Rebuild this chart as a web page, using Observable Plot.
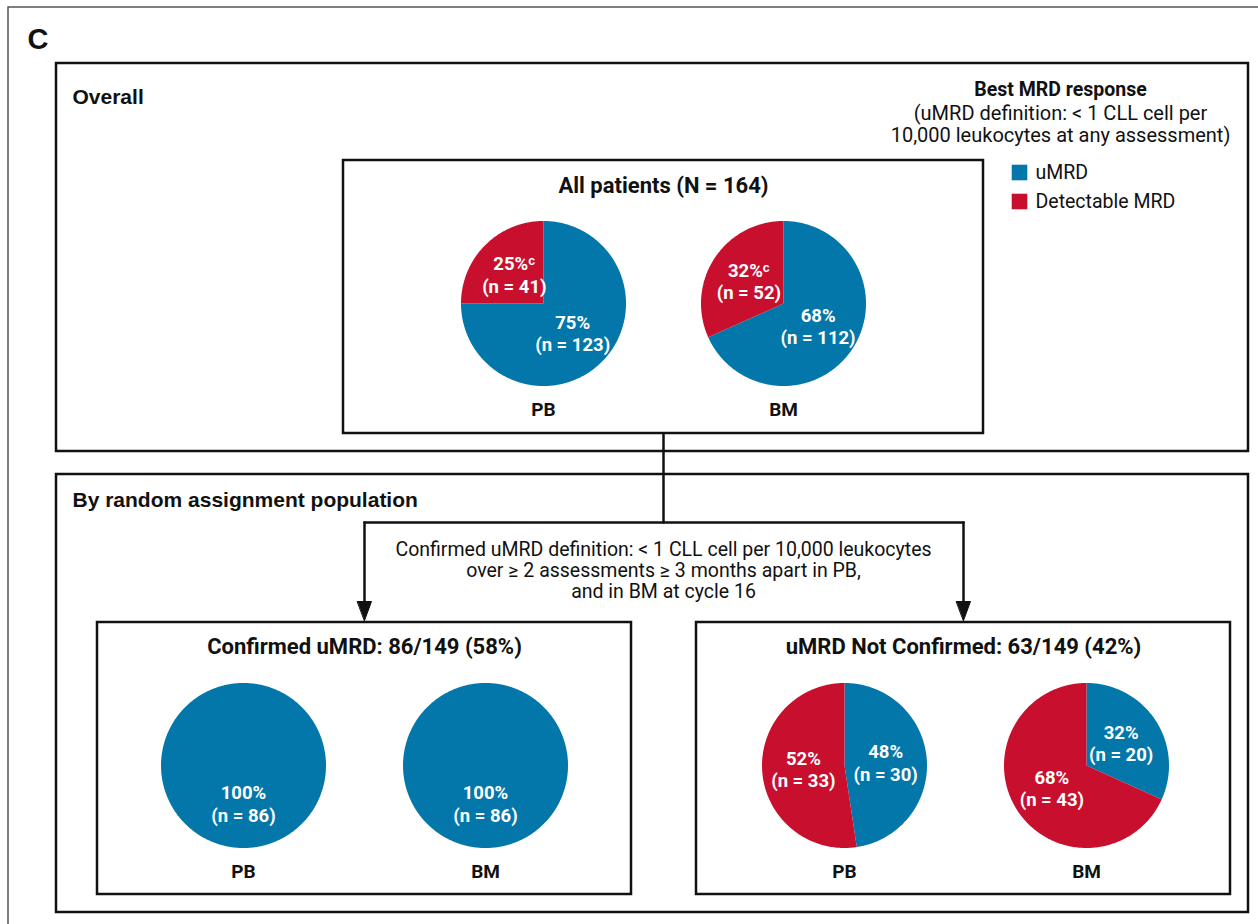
<!DOCTYPE html>
<html><head><meta charset="utf-8">
<script src="https://cdn.jsdelivr.net/npm/d3@7"></script>
<script src="https://cdn.jsdelivr.net/npm/@observablehq/plot@0.6"></script>
<style>body{margin:0;background:#fff;overflow:hidden}</style>
</head><body><div id="chart"></div>
<script>
// ---------- data ----------
const panelTitles = ["All patients (N = 164)", "Confirmed uMRD: 86/149 (58%)", "uMRD Not Confirmed: 63/149 (42%)"];
const sectionTitles = ["Overall", "By random assignment population"];
const statuses = ["uMRD", "Detectable MRD"];
const pieSites = ["PB", "BM", "PB", "BM", "PB", "BM"];
const piePanels = [0, 0, 1, 1, 2, 2];
const uMRDCounts = [123, 112, 86, 86, 30, 20];
const detectableCounts = [41, 52, 0, 0, 33, 43];
const uMRDPercents = [75, 68, 100, 100, 48, 32];
const detectablePercents = [25, 32, 0, 0, 52, 68];
const footnoteMarks = ["ᶜ", "ᶜ", "", "", "", ""];
const legendTitle = "Best MRD response";
const legendNote = ["(uMRD definition: < 1 CLL cell per", "10,000 leukocytes at any assessment)"];
const confirmedDefinition = ["Confirmed uMRD definition: < 1 CLL cell per 10,000 leukocytes", "over ≥ 2 assessments ≥ 3 months apart in PB,", "and in BM at cycle 16"];
const colors = ["#0377a9", "#c8102e"];

// ---------- layout ----------
const W = 1258, H = 924, R = 82.5;
const pieCenters = [[543, 303], [783, 303], [243, 765], [485, 765], [844, 765], [1086, 765]];
const siteLabelY = [409, 409, 871, 871, 871, 871];
const sectionBoxes = [{x1: 56, x2: 1248, y1: 63, y2: 451}, {x1: 56, x2: 1248, y1: 474, y2: 912}];
const panelBoxes = [{x1: 343, x2: 983, y1: 160, y2: 433}, {x1: 97, x2: 631, y1: 622, y2: 894}, {x1: 696, x2: 1230, y1: 622, y2: 894}];
const panelTitleY = [185, 646, 646];

// ---------- build pie slices ----------
const pieGen = d3.pie().sort(null).value(d => d.value);
const slicePts = [];
const sliceLabels = [];
pieCenters.forEach(([cx, cy], i) => {
  const vals = [
    {status: statuses[0], value: uMRDCounts[i], pct: uMRDPercents[i], mark: ""},
    {status: statuses[1], value: detectableCounts[i], pct: detectablePercents[i], mark: footnoteMarks[i]}
  ];
  const total = d3.sum(vals, d => d.value);
  pieGen(vals).forEach((a, j) => {
    if (a.data.value <= 0) return;
    const key = i + "-" + j;
    const full = a.data.value === total;
    const n = Math.max(4, Math.ceil((a.endAngle - a.startAngle) / (Math.PI / 180)));
    if (!full) slicePts.push({key, status: a.data.status, x: cx, y: cy});
    for (let k = 0; k <= n; k++) {
      const t = a.startAngle + (a.endAngle - a.startAngle) * k / n;
      slicePts.push({key, status: a.data.status, x: cx + R * Math.sin(t), y: cy - R * Math.cos(t)});
    }
    const mid = (a.startAngle + a.endAngle) / 2;
    const rr = full ? 0.46 * R : 0.5 * R;
    sliceLabels.push({
      x: cx + rr * Math.sin(mid), y: cy - rr * Math.cos(mid),
      text: `${a.data.pct}%${a.data.mark}\n(n = ${a.data.value})`
    });
  });
});

const sites = pieCenters.map(([cx], i) => ({x: cx, y: siteLabelY[i], text: pieSites[i]}));

// connector and arrows
const cx0 = (panelBoxes[0].x1 + panelBoxes[0].x2) / 2;
const ax1 = (panelBoxes[1].x1 + panelBoxes[1].x2) / 2;
const ax2 = (panelBoxes[2].x1 + panelBoxes[2].x2) / 2;
const hy = 522, tipY = 620;
const connector = [
  {k: "v", x: cx0, y: panelBoxes[0].y2}, {k: "v", x: cx0, y: hy},
  {k: "h", x: ax1, y: hy}, {k: "h", x: ax2, y: hy},
  {k: "l", x: ax1, y: hy}, {k: "l", x: ax1, y: tipY - 14},
  {k: "r", x: ax2, y: hy}, {k: "r", x: ax2, y: tipY - 14}
];
const heads = [];
[ax1, ax2].forEach((x, i) => {
  heads.push({k: i, x: x - 7, y: tipY - 19}, {k: i, x: x + 7, y: tipY - 19}, {k: i, x: x, y: tipY});
});

const SANS = "Liberation Sans, Arial, sans-serif";
const ROB = "Roboto, sans-serif";

const plot = Plot.plot({
  width: W, height: H,
  margin: 0,
  x: {domain: [0, W], range: [0, W], axis: null},
  y: {domain: [0, H], range: [0, H], axis: null},
  color: {domain: statuses, range: colors},
  style: {overflow: "hidden", background: "white"},
  marks: [
    // outer frame
    Plot.rect([{}], {x1: 8, x2: W + 20, y1: 7, y2: H + 20, fill: "none", stroke: "#555", strokeWidth: 1.5}),
    Plot.text(["C"], {x: 27, y: 39, text: d => d, textAnchor: "start", fontFamily: SANS, fontWeight: "bold", fontSize: 29, fill: "#111"}),
    Plot.rect(sectionBoxes, {x1: "x1", x2: "x2", y1: "y1", y2: "y2", fill: "white", stroke: "#111", strokeWidth: 2.5}),
    Plot.rect(panelBoxes, {x1: "x1", x2: "x2", y1: "y1", y2: "y2", fill: "white", stroke: "#111", strokeWidth: 2.5}),
    Plot.line(connector, {x: "x", y: "y", z: "k", stroke: "#111", strokeWidth: 2.5}),
    Plot.line(heads, {x: "x", y: "y", z: "k", fill: "#111", stroke: "#111", strokeWidth: 1, curve: "linear-closed"}),
    // section titles
    Plot.text(sectionTitles, {x: 72, y: [97, 500], text: d => d, textAnchor: "start", fontFamily: SANS, fontWeight: "bold", fontSize: 21, fill: "#111"}),
    // panel titles
    Plot.text(panelTitles, {x: (d, i) => (panelBoxes[i].x1 + panelBoxes[i].x2) / 2, y: (d, i) => panelTitleY[i], text: d => d, fontFamily: ROB, fontWeight: "bold", fontSize: 22, fill: "#111"}),
    // pies
    Plot.line(slicePts, {x: "x", y: "y", z: "key", fill: "status", stroke: "none", curve: "linear-closed"}),
    Plot.text(sliceLabels, {x: "x", y: "y", text: "text", fill: "white", fontFamily: ROB, fontWeight: "bold", fontSize: 18.5, lineHeight: 1.2}),
    Plot.text(sites, {x: "x", y: "y", text: "text", fontFamily: ROB, fontWeight: "bold", fontSize: 19, fill: "#111"}),
    // legend
    Plot.text([legendTitle], {x: 1060, y: 89, text: d => d, fontFamily: ROB, fontWeight: "bold", fontSize: 19.5, fill: "#111"}),
    Plot.text(legendNote, {x: 1060, y: [113, 135], text: d => d, fontFamily: ROB, fontSize: 20, fill: "#111"}),
    Plot.dot(statuses, {x: 1019, y: [172, 201], symbol: "square", r: 8.8, fill: d => d, stroke: "none"}),
    Plot.text(statuses, {x: 1035, y: [172, 201], text: d => d, textAnchor: "start", fontFamily: ROB, fontSize: 19.5, fill: "#111"}),
    // definition text
    Plot.text(confirmedDefinition, {x: cx0, y: [549, 570, 591], text: d => d, fontFamily: ROB, fontSize: 19.5, fill: "#111"})
  ]
});
document.getElementById("chart").appendChild(plot);
</script>
</body></html>
